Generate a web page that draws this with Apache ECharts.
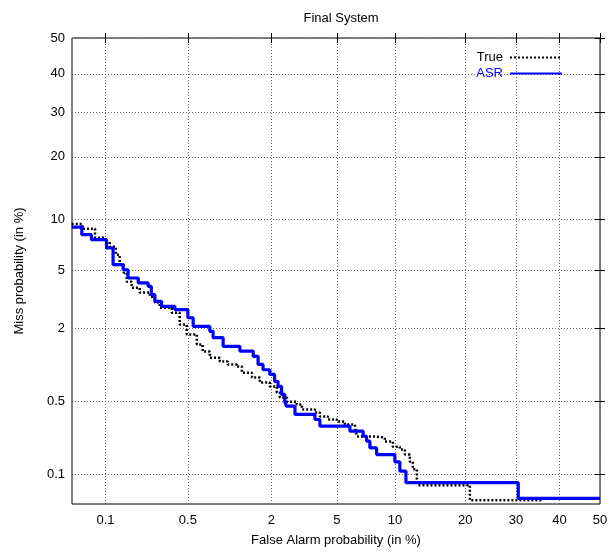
<!DOCTYPE html>
<html>
<head>
<meta charset="utf-8">
<style>
  html, body { margin: 0; padding: 0; background: #fff; }
  #main { width: 612px; height: 552px; }
</style>
<script src="https://cdn.jsdelivr.net/npm/echarts@6/dist/echarts.min.js"></script>
</head>
<body>
<div id="main"></div>
<script>
// tick labels (percent), same on both axes
var tickLabels = ['0.1', '0.5', '2', '5', '10', '20', '30', '40', '50'];

// True transcript: false alarm % / miss %
var faTrue = [0.048, 0.061, 0.080, 0.098, 0.109, 0.124, 0.134, 0.146, 0.155, 0.171, 0.201, 0.245, 0.27, 0.296, 0.372, 0.431, 0.49, 0.587, 0.65, 0.737, 0.875, 1.00, 1.16, 1.26, 1.48, 1.675, 1.95, 2.17, 2.27, 2.52, 2.90, 3.12, 3.74, 4.00, 4.45, 5.00, 5.54, 6.28, 6.43, 7.97, 8.93, 9.77, 10.55, 11.13, 11.73, 12.1, 12.62, 12.8, 20.8, 36.1];
var missTrue = [9.39, 8.84, 7.87, 7.45, 6.97, 6.24, 5.42, 4.83, 4.22, 3.85, 3.57, 3.35, 3.05, 2.81, 2.59, 2.12, 1.79, 1.50, 1.32, 1.18, 1.10, 1.04, 1.00, 0.89, 0.81, 0.735, 0.68, 0.60, 0.545, 0.50, 0.473, 0.426, 0.40, 0.368, 0.345, 0.33, 0.31, 0.29, 0.239, 0.233, 0.214, 0.19, 0.178, 0.159, 0.135, 0.113, 0.089, 0.077, 0.053, 0.053];

// ASR transcript
var faAsr = [0.048, 0.060, 0.074, 0.102, 0.117, 0.144, 0.159, 0.195, 0.237, 0.252, 0.27, 0.307, 0.394, 0.50, 0.55, 0.737, 0.78, 0.925, 1.22, 1.51, 1.63, 1.76, 1.95, 2.10, 2.21, 2.33, 2.44, 2.50, 2.83, 3.74, 4.00, 5.90, 6.94, 7.23, 7.52, 8.13, 9.99, 10.55, 11.26, 30.47, 50];
var missAsr = [9.03, 8.18, 7.66, 6.86, 5.42, 5.04, 4.46, 4.14, 3.93, 3.46, 3.11, 2.87, 2.72, 2.38, 2.06, 1.89, 1.69, 1.45, 1.33, 1.21, 1.04, 0.94, 0.86, 0.75, 0.68, 0.58, 0.505, 0.456, 0.384, 0.345, 0.299, 0.268, 0.240, 0.215, 0.185, 0.159, 0.134, 0.108, 0.082, 0.0557, 0.0557];

// inverse normal CDF (Acklam) -> DET axes are normal deviate scaled
function probit(p) {
  var a = [-3.969683028665376e+01, 2.209460984245205e+02, -2.759285104469687e+02, 1.383577518672690e+02, -3.066479806614716e+01, 2.506628277459239e+00];
  var b = [-5.447609879822406e+01, 1.615858368580409e+02, -1.556989798598866e+02, 6.680131188771972e+01, -1.328068155288572e+01];
  var c = [-7.784894002430293e-03, -3.223964580411365e-01, -2.400758277161838e+00, -2.549732539343734e+00, 4.374664141464968e+00, 2.938163982698783e+00];
  var d = [7.784695709041462e-03, 3.224671290700398e-01, 2.445134137142996e+00, 3.754408661907416e+00];
  var plow = 0.02425, q, r;
  if (p < plow) {
    q = Math.sqrt(-2 * Math.log(p));
    return (((((c[0] * q + c[1]) * q + c[2]) * q + c[3]) * q + c[4]) * q + c[5]) /
      ((((d[0] * q + d[1]) * q + d[2]) * q + d[3]) * q + 1);
  }
  if (p <= 1 - plow) {
    q = p - 0.5;
    r = q * q;
    return (((((a[0] * r + a[1]) * r + a[2]) * r + a[3]) * r + a[4]) * r + a[5]) * q /
      (((((b[0] * r + b[1]) * r + b[2]) * r + b[3]) * r + b[4]) * r + 1);
  }
  q = Math.sqrt(-2 * Math.log(1 - p));
  return -(((((c[0] * q + c[1]) * q + c[2]) * q + c[3]) * q + c[4]) * q + c[5]) /
    ((((d[0] * q + d[1]) * q + d[2]) * q + d[3]) * q + 1);
}

var tickValues = tickLabels.map(function (t) { return probit(parseFloat(t) / 100); });

function tickName(v) {
  for (var i = 0; i < tickValues.length; i++) {
    if (Math.abs(tickValues[i] - v) < 1e-6) return tickLabels[i];
  }
  return '';
}

function toDet(fa, miss) {
  return fa.map(function (f, i) {
    return [probit(f / 100), probit(miss[i] / 100)];
  });
}

var fontFam = '"Liberation Sans", Arial, sans-serif';
var gridLine = { show: true, lineStyle: { color: '#666', type: [1, 2], width: 1 } };

function makeAxis(pos, main) {
  return {
    type: 'value',
    position: pos,
    min: -3.3,
    max: 0,
    axisLine: { show: false },
    axisTick: { show: true, inside: true, length: 5, customValues: tickValues, lineStyle: { color: '#000' } },
    axisLabel: {
      show: main,
      customValues: tickValues,
      formatter: tickName,
      color: '#000',
      fontSize: 13,
      fontFamily: fontFam,
      margin: (pos === 'bottom') ? 10 : 7
    },
    splitLine: main ? gridLine : { show: false }
  };
}

var myChart = echarts.init(document.getElementById('main'));
window.addEventListener('resize', function () {
  myChart.resize();
});

var xMain = makeAxis('bottom', true);
xMain.name = 'False Alarm probability (in %)';
xMain.nameLocation = 'middle';
xMain.nameGap = 30;
xMain.nameTextStyle = { color: '#000', fontSize: 13, fontFamily: fontFam };

var yMain = makeAxis('left', true);
yMain.name = 'Miss probability (in %)';
yMain.nameLocation = 'middle';
yMain.nameGap = 46;
yMain.nameTextStyle = { color: '#000', fontSize: 13, fontFamily: fontFam };

myChart.setOption({
  backgroundColor: '#fff',
  animation: false,
  title: {
    text: 'Final System',
    left: 336,
    textAlign: 'center',
    top: 7,
    textStyle: { color: '#000', fontSize: 13, fontWeight: 'normal', fontFamily: fontFam }
  },
  grid: {
    left: 72,
    right: 12,
    top: 38,
    bottom: 48,
    show: true,
    borderColor: '#000',
    borderWidth: 1
  },
  legend: {
    orient: 'vertical',
    right: 44,
    top: 46,
    align: 'right',
    itemWidth: 52,
    itemHeight: 12,
    itemGap: 3,
    itemStyle: { opacity: 0 },
    textStyle: { fontSize: 13, fontFamily: fontFam, padding: [0, 2, 0, 0] },
    data: [
      { name: 'True', textStyle: { color: '#000' } },
      { name: 'ASR', textStyle: { color: '#0000ff' } }
    ]
  },
  xAxis: [xMain, makeAxis('top', false)],
  yAxis: [yMain, makeAxis('right', false)],
  series: [
    {
      name: 'True',
      type: 'line',
      step: 'end',
      showSymbol: false,
      symbol: 'none',
      lineStyle: { color: '#000', width: 2.5, type: [2, 2] },
      itemStyle: { color: '#000' },
      data: toDet(faTrue, missTrue)
    },
    {
      name: 'ASR',
      type: 'line',
      step: 'end',
      showSymbol: false,
      symbol: 'none',
      lineStyle: { color: '#0000ff', width: 3.2 },
      itemStyle: { color: '#0000ff' },
      data: toDet(faAsr, missAsr)
    }
  ]
});
</script>
</body>
</html>
